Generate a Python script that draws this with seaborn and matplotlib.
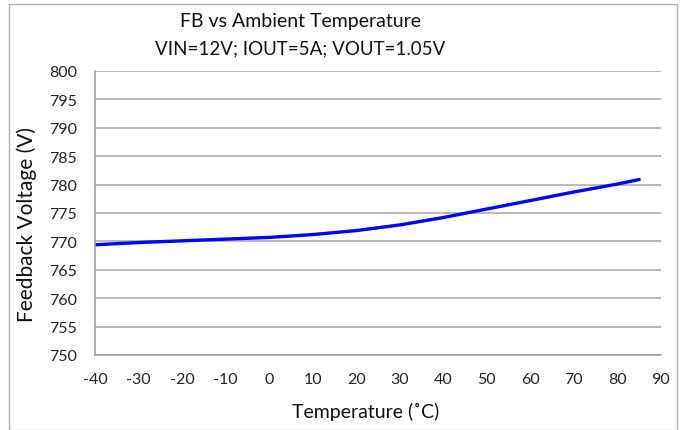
import matplotlib
matplotlib.use("Agg")
import matplotlib.pyplot as plt
import seaborn as sns
import pandas as pd
from matplotlib.patches import Rectangle

temperature = [-40, -30, -20, -10, 0, 10, 20, 30, 40, 50, 60, 70, 80, 85]
feedback_mv = [769.4, 769.8, 770.1, 770.4, 770.7, 771.2, 771.9, 772.9, 774.2, 775.7, 777.2, 778.7, 780.1, 780.9]
x_ticks = list(range(-40, 91, 10))
y_ticks = list(range(750, 801, 5))

df = pd.DataFrame({"Temperature": temperature, "FB": feedback_mv})

sns.set_theme(style="white")
plt.rcParams["font.family"] = ["Lato", "DejaVu Sans"]
plt.rcParams["axes.unicode_minus"] = False

fig = plt.figure(figsize=(6.84, 4.31), dpi=100)
ax = fig.add_axes([95 / 684, 1 - 356 / 431, 566 / 684, 284 / 431])

sns.lineplot(data=df, x="Temperature", y="FB", ax=ax, color="#0000ff", linewidth=2.4)

ax.set_xlim(-40, 90)
ax.set_ylim(750, 800)
ax.set_xticks(x_ticks)
ax.set_yticks(y_ticks)
ax.tick_params(axis="both", length=0, labelsize=11.5, colors="#222222")
ax.tick_params(axis="y", pad=13)
ax.tick_params(axis="x", pad=12)
ax.yaxis.grid(True, color="#a6a6a6", linewidth=1.1)
ax.xaxis.grid(False)
for s in ["top", "right"]:
    ax.spines[s].set_visible(False)
for s in ["left", "bottom"]:
    ax.spines[s].set_color("#999999")
    ax.spines[s].set_linewidth(1.1)

ax.set_xlabel("Temperature (˚C)", fontsize=14, color="#111111")
ax.set_ylabel("Feedback Voltage (V)", fontsize=15, color="#111111")
ax.xaxis.label.set_va("center")
ax.yaxis.label.set_va("center")
ax.yaxis.label.set_ha("center")
ax.xaxis.set_label_coords((366 - 95) / 566, -(412 - 356) / 284)
ax.yaxis.set_label_coords((27 - 95) / 566, (356 - 224) / 284)

fig.text(300 / 684, 1 - 21 / 431, "FB vs Ambient Temperature", ha="center", va="center", fontsize=14, color="#111111")
fig.text(300 / 684, 1 - 49 / 431, "VIN=12V; IOUT=5A; VOUT=1.05V", ha="center", va="center", fontsize=13.5, color="#111111")

fig.patches.append(Rectangle((9 / 684, 0), (677 - 9) / 684, 1 - 5 / 431, transform=fig.transFigure,
                             fill=False, edgecolor="#b0b0b0", linewidth=1.0))

fig.savefig("out.png", dpi=100)
